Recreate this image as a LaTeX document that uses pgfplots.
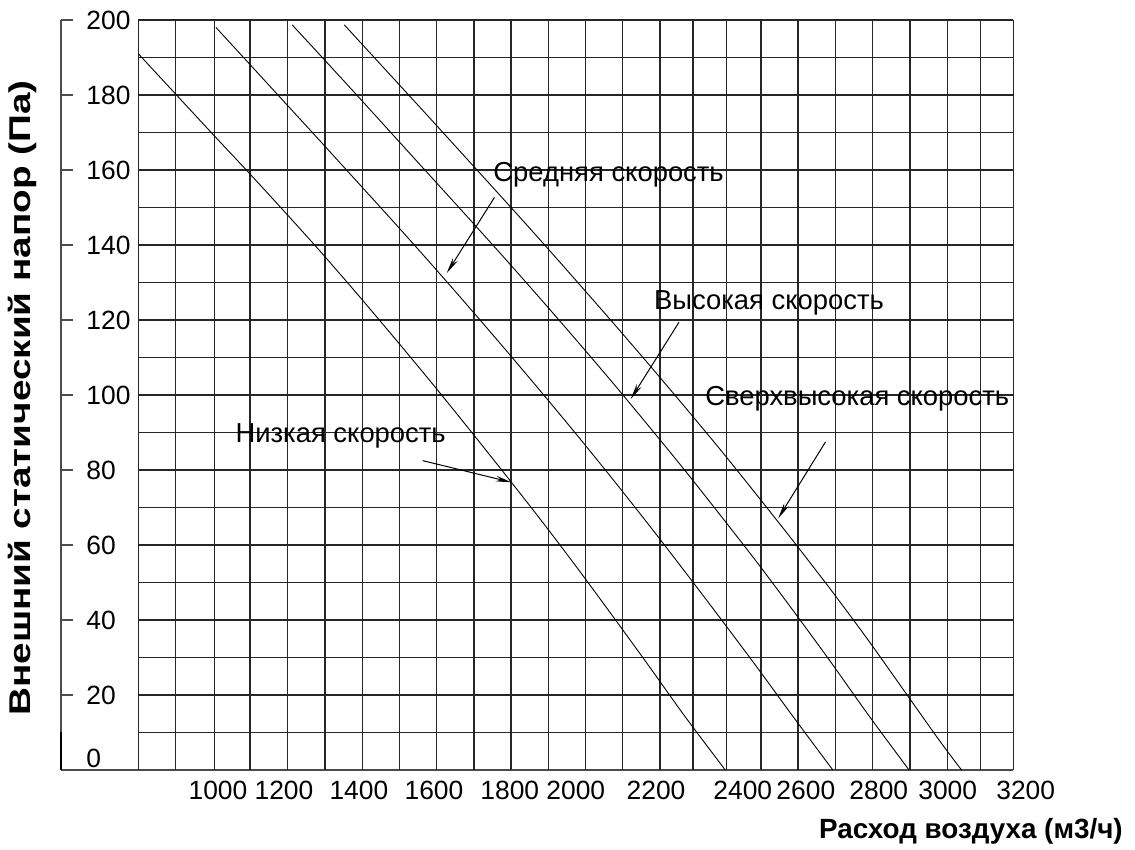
\documentclass[border=0pt]{standalone}
\usepackage{fontspec}
\setmainfont{Liberation Sans}
\usepackage{pgfplots}
\pgfplotsset{compat=1.18}
\usetikzlibrary{arrows.meta}

\begin{document}
\begin{tikzpicture}
\useasboundingbox (-30.5pt,-40pt) rectangle (537pt,385pt);
\begin{axis}[
  at={(0,0)}, anchor=south west,
  scale only axis, width=476.15pt, height=375pt,
  xmin=588, xmax=3200, ymin=0, ymax=200,
  axis lines*=left,
  axis line style={-, draw=black!70, line width=0.6pt},
  clip=false,
  /pgf/number format/assume math mode=true,
  ytick={20,40,...,200},
  extra y ticks={0},
  extra y tick style={major tick length=0pt, yticklabel style={yshift=6pt}},
  tick align=inside, major tick length=5.85pt,
  tick style={draw=black!70, line width=0.6pt},
  yticklabel style={anchor=west, inner sep=0pt, xshift=12.5pt, font=\fontsize{13.2}{15}\selectfont},
  xtick={918.6,1099.6,1305,1511,1719,1900,2120,2358,2531,2731,2920,3134},
  xticklabels={1000,1200,1400,1600,1800,2000,2200,2400,2600,2800,3000,3200},
  xtick style={draw=none},
  xticklabel style={anchor=north, inner sep=0pt, yshift=-5.5pt, xshift=18.23pt, font=\fontsize{13.2}{15}\selectfont},
]
% grid (vertical lines placed where the reference draws them)
\pgfplotsinvokeforeach{800,902.6,1008.5,1106.4,1208.7,1312.1,1414.4,1515.9,1618.4,1720.7,1822.2,1924.5,2027.1,2128.5,2230.8,2321.3,2413.8,2507.8,2609.3,2712.7,2814.2,2916.5,3018.8,3110.4,3200}{
  \draw[black!85, line width=0.6pt] (axis cs:#1,0) -- (axis cs:#1,200);
}
\pgfplotsinvokeforeach{10,20,...,200}{
  \draw[black!85, line width=0.6pt] (axis cs:800,#1) -- (axis cs:3200,#1);
}
\draw[black, line width=1.1pt] (axis cs:588,0) -- (axis cs:588,10);

% curves
\addplot[black, line width=0.45pt, smooth] coordinates {
 (800,191) (900,180.5) (1000,170) (1100,159.6) (1200,149) (1300,138.2)
 (1400,127) (1500,115.5) (1600,103.8) (1700,91.8) (1800,79.6) (1900,67.2)
 (2000,54.4) (2100,41.2) (2200,27.8) (2300,14.2) (2410,0)};
\addplot[black, line width=0.45pt, smooth] coordinates {
 (1013,198) (1100,188.8) (1200,178.2) (1300,167.6) (1400,156.9) (1500,146.2)
 (1600,135.3) (1700,124.2) (1800,112.9) (1900,101.4) (2000,89.7) (2100,77.7)
 (2200,65.4) (2300,52.8) (2400,40) (2500,27) (2600,13.7) (2705,0)};
\addplot[black, line width=0.45pt, smooth] coordinates {
 (1222,198.7) (1300,190.5) (1400,179.9) (1500,169.2) (1600,158.5) (1700,147.8)
 (1800,137) (1900,126) (2000,114.8) (2100,103.4) (2200,91.7) (2300,79.8)
 (2400,67.5) (2500,55) (2600,42) (2700,28.7) (2800,15) (2914,0)};
\addplot[black, line width=0.45pt, smooth] coordinates {
 (1365,198.7) (1400,195) (1500,184.4) (1600,173.8) (1700,163.1) (1800,152.4)
 (1900,141.6) (2000,130.6) (2100,119.5) (2200,108.2) (2300,96.7) (2400,85)
 (2500,72.9) (2600,60.6) (2700,48) (2800,34.9) (2900,21.2) (3000,7.5) (3058,0)};

% annotations
\node[font=\fontsize{13.7}{16}\selectfont, inner sep=0pt] at (axis cs:2090,158.7) {Средняя скорость};
\draw[line width=0.5pt, -{Stealth[length=8pt,width=2.8pt]}] (axis cs:1777,152.7) -- (axis cs:1646,132.5);
\node[font=\fontsize{13.7}{16}\selectfont, inner sep=0pt] at (axis cs:2530,124.5) {Высокая скорость};
\draw[line width=0.5pt, -{Stealth[length=8pt,width=2.8pt]}] (axis cs:2283,119.4) -- (axis cs:2150.5,98.9);
\node[font=\fontsize{13.7}{16}\selectfont, inner sep=0pt] at (axis cs:2772,98.9) {Сверхвысокая скорость};
\draw[line width=0.5pt, -{Stealth[length=8pt,width=2.8pt]}] (axis cs:2685,87.5) -- (axis cs:2555,67.1);
\node[font=\fontsize{13.7}{16}\selectfont, inner sep=0pt] at (axis cs:1355,89.1) {Низкая скорость};
\draw[line width=0.5pt, -{Stealth[length=8pt,width=2.8pt]}] (axis cs:1580,82.5) -- (axis cs:1824,76.7);

% axis labels
\node[rotate=90, font=\bfseries\fontsize{15}{18}\selectfont, inner sep=0pt] at (axis cs:482,99.2) {\scalebox{1.29}[1]{Внешний статический напор (Па)}};
\node[anchor=base east, font=\bfseries\fontsize{13.9}{16}\selectfont, inner sep=0pt] at (axis cs:3501,-18.4) {Расход воздуха (м3/ч)};
\end{axis}
\end{tikzpicture}
\end{document}
